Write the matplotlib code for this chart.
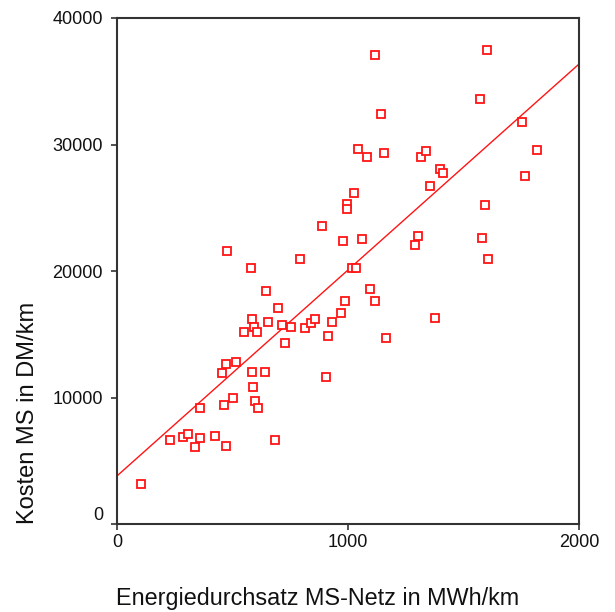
import matplotlib
matplotlib.use("Agg")
import matplotlib.pyplot as plt
import numpy as np

# Data
energie = [104, 229, 286, 307, 338, 359, 359, 424, 472, 463, 502, 455, 472, 515,
           476, 550, 580, 584, 593, 606, 584, 589, 597, 610, 641, 645, 654, 684,
           697, 714, 727, 753, 792, 814, 840, 857, 887, 913, 905, 931, 970, 978,
           987, 996, 996, 1017, 1035, 1026, 1043, 1061, 1082, 1095, 1117, 1117,
           1143, 1156, 1165, 1290, 1303, 1316, 1338, 1355, 1377, 1398, 1411,
           1571, 1580, 1593, 1602, 1606, 1753, 1766, 1818]
kosten = [3160, 6640, 6880, 7110, 6090, 6800, 9170, 6960, 6170, 9410, 9960, 11940,
          12650, 12810, 21580, 15180, 20240, 16210, 15570, 15180, 12020, 10830,
          9720, 9170, 12020, 18420, 15970, 6640, 17080, 15730, 14310, 15570, 20950,
          15490, 15890, 16210, 23560, 14860, 11620, 15970, 16680, 22370, 17630,
          25300, 24900, 20240, 20240, 26170, 29640, 22530, 29010, 18580, 37080,
          17630, 32410, 29330, 14700, 22060, 22770, 29010, 29490, 26720, 16280,
          28060, 27750, 33600, 22610, 25220, 37470, 20950, 31780, 27510, 29570]

fit_intercept = 3800
fit_slope = 16.28
x_ticks = [0, 1000, 2000]
y_ticks = [0, 10000, 20000, 30000, 40000]
x_label = "Energiedurchsatz MS-Netz in MWh/km"
y_label = "Kosten MS in DM/km"

W, H = 615, 612
fig = plt.figure(figsize=(W / 100, H / 100), dpi=100)
ax = fig.add_axes([117 / W, 1 - 524 / H, (579 - 117) / W, (524 - 18) / H])

red = "#ff1414"
ax.plot(energie, kosten, linestyle="none", marker="s", markersize=6.3,
        markerfacecolor="white", markeredgecolor=red, markeredgewidth=1.3,
        zorder=3)
xs = np.array([0, 2000])
ax.plot(xs, fit_intercept + fit_slope * xs, color=red, linewidth=1.0, zorder=2)

ax.set_xlim(0, 2000)
ax.set_ylim(0, 40000)
ax.set_xticks(x_ticks)
ax.set_yticks(y_ticks)
tick_font = dict(family=["Liberation Sans Narrow", "Liberation Sans"], size=13)
ax.set_xticklabels([str(v) for v in x_ticks], **tick_font)
ax.set_yticklabels([str(v) for v in y_ticks], **tick_font)
ax.tick_params(axis="both", direction="out", length=4, width=1.2,
               color="#333333", labelcolor="#111111")
ax.tick_params(axis="x", pad=3)
ax.tick_params(axis="y", pad=6)
for lab in ax.get_yticklabels():
    if lab.get_text() == "0":
        lab.set_verticalalignment("bottom")

for s in ax.spines.values():
    s.set_color("#333333")
    s.set_linewidth(1.5)

fig.text(116 / W, 1 - 598 / H, x_label, ha="left", va="center",
         family="Liberation Sans", fontsize=16.8, color="#111111")
fig.text(28 / W, 1 - 413 / H, y_label, ha="center", va="center", rotation=90,
         family="Liberation Sans", fontsize=17, color="#111111")

fig.savefig("out.png", dpi=100)
